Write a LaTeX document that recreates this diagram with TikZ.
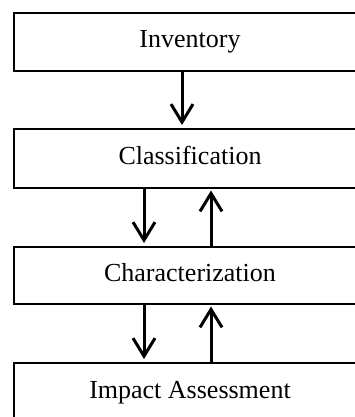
\documentclass[tikz,border=0pt]{standalone}
\usepackage{fontspec}
\setmainfont{Liberation Serif}
\usetikzlibrary{arrows.meta}
\begin{document}
\begin{tikzpicture}[x=1pt,y=-1pt,
  stagebox/.style={draw=black,line width=2pt,minimum width=352pt,inner sep=0pt,
    text height=20pt,text depth=8pt,font=\fontsize{26}{30}\selectfont},
  arr/.style={line width=3pt,-{Straight Barb[length=18pt,width=22pt,line width=3pt]},shorten >=3pt}]
\useasboundingbox (0,0) rectangle (355,417);
\clip (0,0) rectangle (355,417);
\node[stagebox,minimum height=58pt] (inv) at (190,42) {Inventory};
\node[stagebox,minimum height=59pt] (cls) at (190,158.5) {Classification};
\node[stagebox,minimum height=57pt] (chr) at (190,275.5) {Characterization};
\node[stagebox,minimum height=58pt] (imp) at (190,392) {Impact Assessment};
\coordinate (xa) at (182,0);
\coordinate (xd) at (144,0);
\coordinate (xu) at (211,0);
\draw[arr] (inv.south -| xa) -- (cls.north -| xa);
\draw[arr] (cls.south -| xd) -- (chr.north -| xd);
\draw[arr,shorten >=1.5pt] (chr.north -| xu) -- (cls.south -| xu);
\draw[arr] (chr.south -| xd) -- (imp.north -| xd);
\draw[arr,shorten >=1.5pt] (imp.north -| xu) -- (chr.south -| xu);
\end{tikzpicture}
\end{document}
